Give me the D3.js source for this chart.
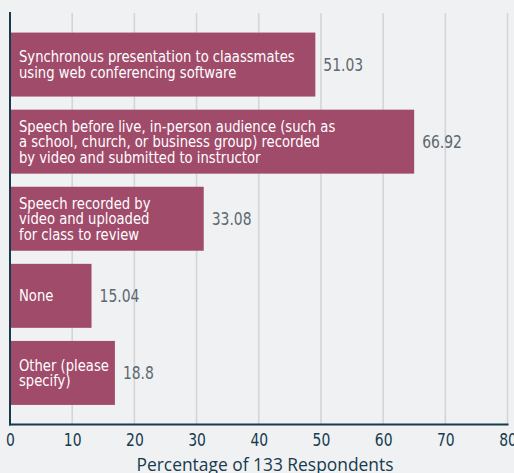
<!DOCTYPE html>
<html>
<head>
<meta charset="utf-8">
<script src="https://cdn.jsdelivr.net/npm/d3@7"></script>
<style>
  html, body { margin: 0; padding: 0; background: #eff1f3; }
  svg { display: block; }
</style>
</head>
<body>
<script>
var categories = [
  ["Synchronous presentation to claassmates", "using web conferencing software"],
  ["Speech before live, in-person audience (such as", "a school, church, or business group) recorded", "by video and submitted to instructor"],
  ["Speech recorded by", "video and uploaded", "for class to review"],
  ["None"],
  ["Other (please", "specify)"]
];
var values = [51.03, 66.92, 33.08, 15.04, 18.8];
var ticks = [0, 10, 20, 30, 40, 50, 60, 70, 80];
var axisTitle = "Percentage of 133 Respondents";

var width = 514;
var height = 473;
var plotLeft = 10, plotRight = 507.5, plotTop = 13, plotBottom = 424.5;
var barTrim = 12; // bars in the picture stop a bit short of their value
var narrow = "'DejaVu Sans Condensed', 'DejaVu Sans', sans-serif";
var squeeze = 0.86; // the original face is narrower than any installed one

var svg = d3.select("body")
        .append("svg")
        .attr("width", width)
        .attr("height", height);

svg.append("rect")
   .attr("width", width)
   .attr("height", height)
   .attr("fill", "#eff1f3");

var x_scale = d3.scaleLinear()
              .domain([0, 80])
              .range([plotLeft, plotRight]);

var y_scale = d3.scaleBand()
              .domain(d3.range(values.length))
              .range([plotTop, plotBottom])
              .paddingInner(0.17)
              .paddingOuter(0.254);

// grid
svg.selectAll("line.grid")
   .data(ticks.slice(1))
   .enter()
   .append("line")
   .attr("class", "grid")
   .attr("x1", function(d) { return x_scale(d); })
   .attr("x2", function(d) { return x_scale(d); })
   .attr("y1", plotTop)
   .attr("y2", plotBottom)
   .attr("stroke", "#d3d6d9")
   .attr("stroke-width", 1.6);

var bars = svg.selectAll("g.bar")
              .data(values)
              .enter()
              .append("g")
              .attr("class", "bar")
              .attr("transform", function(d, i) {
                return "translate(0," + y_scale(i) + ")";
              });

bars.append("rect")
    .attr("x", x_scale(0) + 1)
    .attr("width", function(d) { return x_scale(d) - x_scale(0) - 1 - barTrim; })
    .attr("height", y_scale.bandwidth())
    .attr("fill", "#a14b6b");

var lineH = 15.6;
bars.append("text")
    .attr("font-family", narrow)
    .attr("font-stretch", "condensed")
    .attr("font-size", 16)
    .attr("fill", "#ffffff")
    .attr("transform", "translate(" + (x_scale(0) + 9) + ",0) scale(0.915,1)")
    .each(function(d, i) {
      var lines = categories[i];
      var mid = y_scale.bandwidth() / 2;
      var first = mid - (lines.length - 1) * lineH / 2;
      d3.select(this).selectAll("tspan")
        .data(lines)
        .enter()
        .append("tspan")
        .attr("x", 0)
        .attr("y", function(l, j) { return first + j * lineH + 5.5; })
        .text(function(l) { return l; });
    });

bars.append("text")
    .attr("transform", function(d) {
      return "translate(" + (x_scale(d) - barTrim + 8) + "," + (y_scale.bandwidth() / 2 + 6.5) + ") scale(" + squeeze + ",1)";
    })
    .attr("font-family", narrow)
    .attr("font-stretch", "condensed")
    .attr("font-size", 18)
    .attr("fill", "#5d6870")
    .text(function(d) { return d; });

// axes
var x_axis = d3.axisBottom(x_scale)
               .tickValues(ticks)
               .tickSize(0)
               .tickPadding(9);

var gx = svg.append("g")
   .attr("transform", "translate(0," + plotBottom + ")")
   .call(x_axis);
gx.select(".domain").remove();
gx.selectAll("text")
  .attr("font-family", narrow)
  .attr("font-stretch", "condensed")
  .attr("font-size", 18)
  .attr("transform", "scale(" + squeeze + ",1)")
  .attr("fill", "#173a4d");

svg.append("line")
   .attr("x1", plotLeft)
   .attr("x2", plotLeft)
   .attr("y1", plotTop - 1)
   .attr("y2", plotBottom + 1)
   .attr("stroke", "#173a4d")
   .attr("stroke-width", 2);

svg.append("line")
   .attr("x1", plotLeft - 1)
   .attr("x2", plotRight + 1)
   .attr("y1", plotBottom)
   .attr("y2", plotBottom)
   .attr("stroke", "#173a4d")
   .attr("stroke-width", 2);

svg.append("text")
   .attr("x", 265)
   .attr("y", 471)
   .attr("text-anchor", "middle")
   .attr("font-family", "'Open Sans', sans-serif")
   .attr("font-size", 17.4)
   .attr("fill", "#173a4d")
   .text(axisTitle);
</script>
</body>
</html>
